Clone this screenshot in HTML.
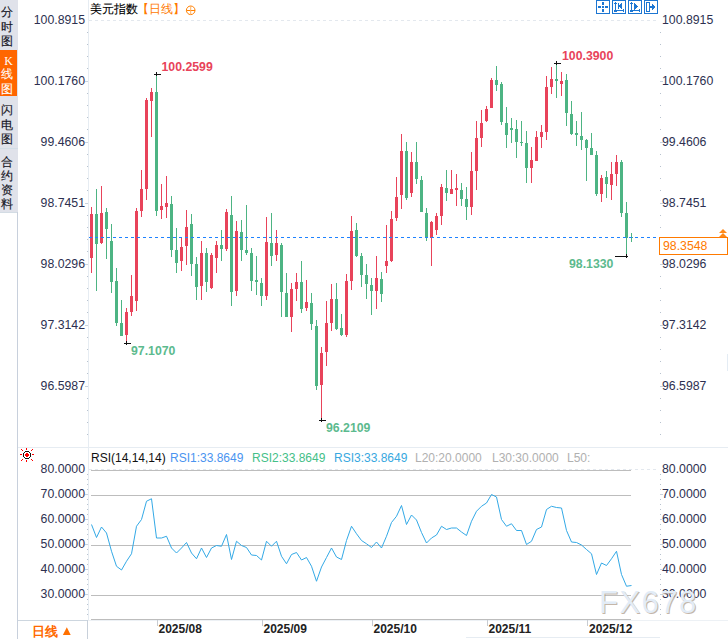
<!DOCTYPE html>
<html><head><meta charset="utf-8"><style>
html,body{margin:0;padding:0;background:#fff;width:728px;height:639px;overflow:hidden}
svg{display:block}
text{font-family:"Liberation Sans",sans-serif}
.ax{font-size:12.3px;fill:#2d3050}
.sb{font-size:12px;fill:#15151f;stroke:#15151f;stroke-width:0.15}
</style></head><body>
<svg width="728" height="639" viewBox="0 0 728 639">
<rect width="728" height="639" fill="#fff"/>
<!-- sidebar -->
<rect x="0" y="0" width="18" height="212" fill="#e0e2ea"/>
<rect x="0" y="50" width="17" height="46" fill="#ff6600"/>
<rect x="0" y="148" width="18" height="1" fill="#d2dde6"/>
<rect x="0" y="212" width="18" height="1" fill="#d3dce4"/>
<rect x="17" y="212" width="1" height="427" fill="#c8d0dc"/>
<g class="sb" text-anchor="middle">
<text x="7.2" y="15.5">分</text><text x="7.2" y="31">时</text><text x="7.2" y="44.5">图</text>
<text x="8.5" y="65" style="fill:#fff;stroke:none;font-family:'Liberation Serif',serif;font-size:12px">K</text><text x="7.2" y="78.4" style="fill:#fff;stroke:#fff;stroke-width:0.1">线</text><text x="7.2" y="93.3" style="fill:#fff;stroke:#fff;stroke-width:0.1">图</text>
<text x="7.2" y="113.6">闪</text><text x="7.2" y="129.2">电</text><text x="7.2" y="142.5">图</text>
<text x="7.2" y="165.9">合</text><text x="7.2" y="179.9">约</text><text x="7.2" y="194">资</text><text x="7.2" y="207.9">料</text>
</g>
<!-- borders -->
<rect x="88" y="0" width="1" height="620" fill="#e6ecf2"/>
<rect x="18" y="447" width="710" height="1" fill="#e6ecf2"/>
<rect x="18" y="620" width="70" height="1" fill="#cdd6df"/>
<rect x="88" y="620" width="640" height="1" fill="#edf1f5"/>
<rect x="87" y="620" width="1" height="19" fill="#c8d0da"/>
<rect x="91" y="619" width="540" height="1" fill="#bdbdbd"/>
<line x1="89" y1="469.5" x2="659" y2="469.5" stroke="#e3e8ee" stroke-dasharray="3,3"/>
<!-- top grid dashed -->
<line x1="89" y1="20.5" x2="659" y2="20.5" stroke="#e3e8ee" stroke-dasharray="3,3"/>
<!-- title -->
<text x="90" y="13" style="font-size:12px;fill:#000;stroke:#000;stroke-width:0.1">美元指数</text>
<text x="137.2" y="13.3" style="font-size:12.4px;fill:#ff7a00">【日线】</text>
<circle cx="190.7" cy="10.3" r="4.3" fill="none" stroke="#ff8000" stroke-width="1"/>
<rect x="186.5" y="10" width="8.5" height="1" fill="#ff8000"/><rect x="190.2" y="6" width="1" height="8.5" fill="#ffb060"/>
<!-- toolbar -->
<g fill="#1c76d2" shape-rendering="crispEdges">
<path d="M596 0h14v1h-14z M596 13h14v1h-14z M596 0h1v14h-1z M609 0h1v14h-1z"/>
<path d="M612 0h14v1h-14z M612 13h14v1h-14z M612 0h1v14h-1z M625 0h1v14h-1z"/>
<path d="M628 0h14v1h-14z M628 13h14v1h-14z M628 0h1v14h-1z M641 0h1v14h-1z"/>
<path d="M644 0h14v1h-14z M644 13h14v1h-14z M644 0h1v14h-1z M657 0h1v14h-1z"/>
<path d="M602 2h2v3h-2z M602 6h2v2h-2z M602 9h2v3h-2z M598 6h3v2h-3z M605 6h3v2h-3z"/>
<path d="M615 2h1v10h-1z M614 3h3v1h-3z M614 11h3v1h-3z M614 10h10v1h-10z M623 9h1v3h-1z M618 3h1v6h-1z M619 5h1v2h-1z M620 4h1v4h-1z M621 3h1v6h-1z"/>
<path d="M631 2h1v10h-1z M630 3h3v1h-3z M630 11h3v1h-3z M630 10h10v1h-10z M639 9h1v3h-1z M634 3h1v7h-1z M635 4h1v5h-1z M636 5h1v3h-1z M637 6h1v1h-1z"/>
<path d="M646 2h4v1h-4z M646 11h4v1h-4z M646 2h1v10h-1z M649 2h1v10h-1z M650 6h3v2h-3z M652 4h1v6h-1z M653 5h1v4h-1z M654 6h1v2h-1z"/>
</g>
<text x="85" y="24" class="ax" text-anchor="end">100.8915</text>
<text x="662" y="24" class="ax">100.8915</text>
<text x="85" y="85" class="ax" text-anchor="end">100.1760</text>
<text x="662" y="85" class="ax">100.1760</text>
<rect x="85" y="81" width="3" height="1" fill="#c9d3de"/>
<rect x="660" y="81" width="3" height="1" fill="#c9d3de"/>
<text x="85" y="146" class="ax" text-anchor="end">99.4606</text>
<text x="662" y="146" class="ax">99.4606</text>
<rect x="85" y="142" width="3" height="1" fill="#c9d3de"/>
<rect x="660" y="142" width="3" height="1" fill="#c9d3de"/>
<text x="85" y="207" class="ax" text-anchor="end">98.7451</text>
<text x="662" y="207" class="ax">98.7451</text>
<rect x="85" y="203" width="3" height="1" fill="#c9d3de"/>
<rect x="660" y="203" width="3" height="1" fill="#c9d3de"/>
<text x="85" y="268" class="ax" text-anchor="end">98.0296</text>
<text x="662" y="268" class="ax">98.0296</text>
<rect x="85" y="264" width="3" height="1" fill="#c9d3de"/>
<rect x="660" y="264" width="3" height="1" fill="#c9d3de"/>
<text x="85" y="329" class="ax" text-anchor="end">97.3142</text>
<text x="662" y="329" class="ax">97.3142</text>
<rect x="85" y="325" width="3" height="1" fill="#c9d3de"/>
<rect x="660" y="325" width="3" height="1" fill="#c9d3de"/>
<text x="85" y="390" class="ax" text-anchor="end">96.5987</text>
<text x="662" y="390" class="ax">96.5987</text>
<rect x="85" y="386" width="3" height="1" fill="#c9d3de"/>
<rect x="660" y="386" width="3" height="1" fill="#c9d3de"/>
<rect x="87" y="32" width="1" height="1" fill="#b8c2ce"/>
<rect x="660" y="32" width="1" height="1" fill="#b8c2ce"/>
<rect x="87" y="44" width="1" height="1" fill="#b8c2ce"/>
<rect x="660" y="44" width="1" height="1" fill="#b8c2ce"/>
<rect x="87" y="56" width="1" height="1" fill="#b8c2ce"/>
<rect x="660" y="56" width="1" height="1" fill="#b8c2ce"/>
<rect x="87" y="68" width="1" height="1" fill="#b8c2ce"/>
<rect x="660" y="68" width="1" height="1" fill="#b8c2ce"/>
<rect x="87" y="93" width="1" height="1" fill="#b8c2ce"/>
<rect x="660" y="93" width="1" height="1" fill="#b8c2ce"/>
<rect x="87" y="105" width="1" height="1" fill="#b8c2ce"/>
<rect x="660" y="105" width="1" height="1" fill="#b8c2ce"/>
<rect x="87" y="117" width="1" height="1" fill="#b8c2ce"/>
<rect x="660" y="117" width="1" height="1" fill="#b8c2ce"/>
<rect x="87" y="129" width="1" height="1" fill="#b8c2ce"/>
<rect x="660" y="129" width="1" height="1" fill="#b8c2ce"/>
<rect x="87" y="154" width="1" height="1" fill="#b8c2ce"/>
<rect x="660" y="154" width="1" height="1" fill="#b8c2ce"/>
<rect x="87" y="166" width="1" height="1" fill="#b8c2ce"/>
<rect x="660" y="166" width="1" height="1" fill="#b8c2ce"/>
<rect x="87" y="178" width="1" height="1" fill="#b8c2ce"/>
<rect x="660" y="178" width="1" height="1" fill="#b8c2ce"/>
<rect x="87" y="190" width="1" height="1" fill="#b8c2ce"/>
<rect x="660" y="190" width="1" height="1" fill="#b8c2ce"/>
<rect x="87" y="215" width="1" height="1" fill="#b8c2ce"/>
<rect x="660" y="215" width="1" height="1" fill="#b8c2ce"/>
<rect x="87" y="227" width="1" height="1" fill="#b8c2ce"/>
<rect x="660" y="227" width="1" height="1" fill="#b8c2ce"/>
<rect x="87" y="239" width="1" height="1" fill="#b8c2ce"/>
<rect x="660" y="239" width="1" height="1" fill="#b8c2ce"/>
<rect x="87" y="251" width="1" height="1" fill="#b8c2ce"/>
<rect x="660" y="251" width="1" height="1" fill="#b8c2ce"/>
<rect x="87" y="276" width="1" height="1" fill="#b8c2ce"/>
<rect x="660" y="276" width="1" height="1" fill="#b8c2ce"/>
<rect x="87" y="288" width="1" height="1" fill="#b8c2ce"/>
<rect x="660" y="288" width="1" height="1" fill="#b8c2ce"/>
<rect x="87" y="300" width="1" height="1" fill="#b8c2ce"/>
<rect x="660" y="300" width="1" height="1" fill="#b8c2ce"/>
<rect x="87" y="312" width="1" height="1" fill="#b8c2ce"/>
<rect x="660" y="312" width="1" height="1" fill="#b8c2ce"/>
<rect x="87" y="337" width="1" height="1" fill="#b8c2ce"/>
<rect x="660" y="337" width="1" height="1" fill="#b8c2ce"/>
<rect x="87" y="349" width="1" height="1" fill="#b8c2ce"/>
<rect x="660" y="349" width="1" height="1" fill="#b8c2ce"/>
<rect x="87" y="361" width="1" height="1" fill="#b8c2ce"/>
<rect x="660" y="361" width="1" height="1" fill="#b8c2ce"/>
<rect x="87" y="373" width="1" height="1" fill="#b8c2ce"/>
<rect x="660" y="373" width="1" height="1" fill="#b8c2ce"/>
<rect x="87" y="398" width="1" height="1" fill="#b8c2ce"/>
<rect x="660" y="398" width="1" height="1" fill="#b8c2ce"/>
<rect x="87" y="410" width="1" height="1" fill="#b8c2ce"/>
<rect x="660" y="410" width="1" height="1" fill="#b8c2ce"/>
<rect x="87" y="422" width="1" height="1" fill="#b8c2ce"/>
<rect x="660" y="422" width="1" height="1" fill="#b8c2ce"/>
<rect x="87" y="434" width="1" height="1" fill="#b8c2ce"/>
<rect x="660" y="434" width="1" height="1" fill="#b8c2ce"/>
<text x="85" y="473.0" class="ax" text-anchor="end">80.0000</text>
<text x="662" y="473.0" class="ax">80.0000</text>
<text x="85" y="498.0" class="ax" text-anchor="end">70.0000</text>
<text x="662" y="498.0" class="ax">70.0000</text>
<rect x="85" y="494" width="3" height="1" fill="#c9d3de"/>
<rect x="660" y="494" width="3" height="1" fill="#c9d3de"/>
<text x="85" y="523.0" class="ax" text-anchor="end">60.0000</text>
<text x="662" y="523.0" class="ax">60.0000</text>
<rect x="85" y="519" width="3" height="1" fill="#c9d3de"/>
<rect x="660" y="519" width="3" height="1" fill="#c9d3de"/>
<text x="85" y="548.0" class="ax" text-anchor="end">50.0000</text>
<text x="662" y="548.0" class="ax">50.0000</text>
<rect x="85" y="544" width="3" height="1" fill="#c9d3de"/>
<rect x="660" y="544" width="3" height="1" fill="#c9d3de"/>
<text x="85" y="573.0" class="ax" text-anchor="end">40.0000</text>
<text x="662" y="573.0" class="ax">40.0000</text>
<rect x="85" y="569" width="3" height="1" fill="#c9d3de"/>
<rect x="660" y="569" width="3" height="1" fill="#c9d3de"/>
<text x="85" y="598.0" class="ax" text-anchor="end">30.0000</text>
<text x="662" y="598.0" class="ax">30.0000</text>
<rect x="85" y="594" width="3" height="1" fill="#c9d3de"/>
<rect x="660" y="594" width="3" height="1" fill="#c9d3de"/>
<rect x="87" y="474" width="1" height="1" fill="#b8c2ce"/>
<rect x="660" y="474" width="1" height="1" fill="#b8c2ce"/>
<rect x="87" y="479" width="1" height="1" fill="#b8c2ce"/>
<rect x="660" y="479" width="1" height="1" fill="#b8c2ce"/>
<rect x="87" y="484" width="1" height="1" fill="#b8c2ce"/>
<rect x="660" y="484" width="1" height="1" fill="#b8c2ce"/>
<rect x="87" y="489" width="1" height="1" fill="#b8c2ce"/>
<rect x="660" y="489" width="1" height="1" fill="#b8c2ce"/>
<rect x="87" y="499" width="1" height="1" fill="#b8c2ce"/>
<rect x="660" y="499" width="1" height="1" fill="#b8c2ce"/>
<rect x="87" y="504" width="1" height="1" fill="#b8c2ce"/>
<rect x="660" y="504" width="1" height="1" fill="#b8c2ce"/>
<rect x="87" y="509" width="1" height="1" fill="#b8c2ce"/>
<rect x="660" y="509" width="1" height="1" fill="#b8c2ce"/>
<rect x="87" y="514" width="1" height="1" fill="#b8c2ce"/>
<rect x="660" y="514" width="1" height="1" fill="#b8c2ce"/>
<rect x="87" y="524" width="1" height="1" fill="#b8c2ce"/>
<rect x="660" y="524" width="1" height="1" fill="#b8c2ce"/>
<rect x="87" y="529" width="1" height="1" fill="#b8c2ce"/>
<rect x="660" y="529" width="1" height="1" fill="#b8c2ce"/>
<rect x="87" y="534" width="1" height="1" fill="#b8c2ce"/>
<rect x="660" y="534" width="1" height="1" fill="#b8c2ce"/>
<rect x="87" y="539" width="1" height="1" fill="#b8c2ce"/>
<rect x="660" y="539" width="1" height="1" fill="#b8c2ce"/>
<rect x="87" y="549" width="1" height="1" fill="#b8c2ce"/>
<rect x="660" y="549" width="1" height="1" fill="#b8c2ce"/>
<rect x="87" y="554" width="1" height="1" fill="#b8c2ce"/>
<rect x="660" y="554" width="1" height="1" fill="#b8c2ce"/>
<rect x="87" y="559" width="1" height="1" fill="#b8c2ce"/>
<rect x="660" y="559" width="1" height="1" fill="#b8c2ce"/>
<rect x="87" y="564" width="1" height="1" fill="#b8c2ce"/>
<rect x="660" y="564" width="1" height="1" fill="#b8c2ce"/>
<rect x="87" y="574" width="1" height="1" fill="#b8c2ce"/>
<rect x="660" y="574" width="1" height="1" fill="#b8c2ce"/>
<rect x="87" y="579" width="1" height="1" fill="#b8c2ce"/>
<rect x="660" y="579" width="1" height="1" fill="#b8c2ce"/>
<rect x="87" y="584" width="1" height="1" fill="#b8c2ce"/>
<rect x="660" y="584" width="1" height="1" fill="#b8c2ce"/>
<rect x="87" y="589" width="1" height="1" fill="#b8c2ce"/>
<rect x="660" y="589" width="1" height="1" fill="#b8c2ce"/>
<rect x="87" y="599" width="1" height="1" fill="#b8c2ce"/>
<rect x="660" y="599" width="1" height="1" fill="#b8c2ce"/>
<rect x="87" y="604" width="1" height="1" fill="#b8c2ce"/>
<rect x="660" y="604" width="1" height="1" fill="#b8c2ce"/>
<rect x="87" y="609" width="1" height="1" fill="#b8c2ce"/>
<rect x="660" y="609" width="1" height="1" fill="#b8c2ce"/>
<rect x="87" y="614" width="1" height="1" fill="#b8c2ce"/>
<rect x="660" y="614" width="1" height="1" fill="#b8c2ce"/>
<!-- candles -->
<g shape-rendering="crispEdges">
<rect x="91" y="207" width="1" height="66" fill="#e8435a"/>
<rect x="90" y="214" width="3" height="44" fill="#e8435a"/>
<rect x="96" y="189" width="1" height="102" fill="#4db483"/>
<rect x="95" y="214" width="3" height="30" fill="#4db483"/>
<rect x="101" y="186" width="1" height="58" fill="#e8435a"/>
<rect x="100" y="213" width="3" height="30" fill="#e8435a"/>
<rect x="106" y="208" width="1" height="51" fill="#4db483"/>
<rect x="105" y="212" width="3" height="17" fill="#4db483"/>
<rect x="111" y="224" width="1" height="69" fill="#4db483"/>
<rect x="110" y="241" width="3" height="41" fill="#4db483"/>
<rect x="116" y="268" width="1" height="58" fill="#4db483"/>
<rect x="115" y="281" width="3" height="42" fill="#4db483"/>
<rect x="121" y="300" width="1" height="36" fill="#4db483"/>
<rect x="120" y="323" width="3" height="13" fill="#4db483"/>
<rect x="126" y="308" width="1" height="35" fill="#e8435a"/>
<rect x="125" y="312" width="3" height="23" fill="#e8435a"/>
<rect x="131" y="275" width="1" height="41" fill="#e8435a"/>
<rect x="130" y="296" width="3" height="16" fill="#e8435a"/>
<rect x="136" y="208" width="1" height="103" fill="#e8435a"/>
<rect x="135" y="211" width="3" height="90" fill="#e8435a"/>
<rect x="141" y="170" width="1" height="47" fill="#e8435a"/>
<rect x="140" y="189" width="3" height="22" fill="#e8435a"/>
<rect x="146" y="98" width="1" height="102" fill="#e8435a"/>
<rect x="145" y="100" width="3" height="89" fill="#e8435a"/>
<rect x="151" y="88" width="1" height="49" fill="#e8435a"/>
<rect x="150" y="92" width="3" height="9" fill="#e8435a"/>
<rect x="156" y="74" width="1" height="142" fill="#4db483"/>
<rect x="155" y="92" width="3" height="119" fill="#4db483"/>
<rect x="161" y="184" width="1" height="35" fill="#e8435a"/>
<rect x="160" y="206" width="3" height="4" fill="#e8435a"/>
<rect x="166" y="176" width="1" height="42" fill="#e8435a"/>
<rect x="165" y="203" width="3" height="4" fill="#e8435a"/>
<rect x="171" y="196" width="1" height="61" fill="#4db483"/>
<rect x="170" y="204" width="3" height="46" fill="#4db483"/>
<rect x="176" y="228" width="1" height="45" fill="#4db483"/>
<rect x="175" y="250" width="3" height="13" fill="#4db483"/>
<rect x="181" y="237" width="1" height="34" fill="#e8435a"/>
<rect x="180" y="247" width="3" height="14" fill="#e8435a"/>
<rect x="186" y="210" width="1" height="55" fill="#e8435a"/>
<rect x="185" y="227" width="3" height="19" fill="#e8435a"/>
<rect x="191" y="214" width="1" height="62" fill="#4db483"/>
<rect x="190" y="224" width="3" height="40" fill="#4db483"/>
<rect x="196" y="257" width="1" height="43" fill="#4db483"/>
<rect x="195" y="264" width="3" height="23" fill="#4db483"/>
<rect x="201" y="241" width="1" height="59" fill="#e8435a"/>
<rect x="200" y="253" width="3" height="33" fill="#e8435a"/>
<rect x="206" y="248" width="1" height="44" fill="#4db483"/>
<rect x="205" y="253" width="3" height="29" fill="#4db483"/>
<rect x="211" y="253" width="1" height="36" fill="#e8435a"/>
<rect x="210" y="255" width="3" height="33" fill="#e8435a"/>
<rect x="216" y="241" width="1" height="32" fill="#e8435a"/>
<rect x="215" y="245" width="3" height="13" fill="#e8435a"/>
<rect x="221" y="230" width="1" height="31" fill="#4db483"/>
<rect x="220" y="245" width="3" height="4" fill="#4db483"/>
<rect x="226" y="209" width="1" height="42" fill="#e8435a"/>
<rect x="225" y="212" width="3" height="37" fill="#e8435a"/>
<rect x="231" y="196" width="1" height="110" fill="#4db483"/>
<rect x="230" y="215" width="3" height="77" fill="#4db483"/>
<rect x="236" y="221" width="1" height="75" fill="#e8435a"/>
<rect x="235" y="231" width="3" height="60" fill="#e8435a"/>
<rect x="241" y="220" width="1" height="41" fill="#4db483"/>
<rect x="240" y="232" width="3" height="18" fill="#4db483"/>
<rect x="246" y="205" width="1" height="50" fill="#4db483"/>
<rect x="245" y="250" width="3" height="3" fill="#4db483"/>
<rect x="251" y="248" width="1" height="43" fill="#4db483"/>
<rect x="250" y="253" width="3" height="28" fill="#4db483"/>
<rect x="256" y="256" width="1" height="39" fill="#4db483"/>
<rect x="255" y="280" width="3" height="2" fill="#4db483"/>
<rect x="261" y="278" width="1" height="28" fill="#4db483"/>
<rect x="260" y="283" width="3" height="13" fill="#4db483"/>
<rect x="266" y="217" width="1" height="83" fill="#e8435a"/>
<rect x="265" y="242" width="3" height="54" fill="#e8435a"/>
<rect x="271" y="213" width="1" height="53" fill="#4db483"/>
<rect x="270" y="243" width="3" height="13" fill="#4db483"/>
<rect x="276" y="230" width="1" height="31" fill="#e8435a"/>
<rect x="275" y="243" width="3" height="12" fill="#e8435a"/>
<rect x="281" y="243" width="1" height="74" fill="#4db483"/>
<rect x="280" y="245" width="3" height="47" fill="#4db483"/>
<rect x="286" y="273" width="1" height="44" fill="#4db483"/>
<rect x="285" y="293" width="3" height="24" fill="#4db483"/>
<rect x="291" y="283" width="1" height="49" fill="#e8435a"/>
<rect x="290" y="289" width="3" height="28" fill="#e8435a"/>
<rect x="296" y="273" width="1" height="28" fill="#e8435a"/>
<rect x="295" y="282" width="3" height="7" fill="#e8435a"/>
<rect x="301" y="261" width="1" height="52" fill="#4db483"/>
<rect x="300" y="282" width="3" height="27" fill="#4db483"/>
<rect x="306" y="280" width="1" height="31" fill="#e8435a"/>
<rect x="305" y="302" width="3" height="6" fill="#e8435a"/>
<rect x="311" y="293" width="1" height="37" fill="#4db483"/>
<rect x="310" y="303" width="3" height="21" fill="#4db483"/>
<rect x="316" y="320" width="1" height="70" fill="#4db483"/>
<rect x="315" y="326" width="3" height="60" fill="#4db483"/>
<rect x="321" y="347" width="1" height="73" fill="#e8435a"/>
<rect x="320" y="353" width="3" height="32" fill="#e8435a"/>
<rect x="326" y="301" width="1" height="65" fill="#e8435a"/>
<rect x="325" y="323" width="3" height="29" fill="#e8435a"/>
<rect x="331" y="284" width="1" height="47" fill="#e8435a"/>
<rect x="330" y="299" width="3" height="24" fill="#e8435a"/>
<rect x="336" y="283" width="1" height="47" fill="#4db483"/>
<rect x="335" y="299" width="3" height="30" fill="#4db483"/>
<rect x="341" y="314" width="1" height="22" fill="#4db483"/>
<rect x="340" y="328" width="3" height="7" fill="#4db483"/>
<rect x="346" y="274" width="1" height="63" fill="#e8435a"/>
<rect x="345" y="281" width="3" height="54" fill="#e8435a"/>
<rect x="351" y="216" width="1" height="74" fill="#e8435a"/>
<rect x="350" y="231" width="3" height="50" fill="#e8435a"/>
<rect x="356" y="223" width="1" height="34" fill="#4db483"/>
<rect x="355" y="230" width="3" height="26" fill="#4db483"/>
<rect x="361" y="253" width="1" height="34" fill="#4db483"/>
<rect x="360" y="256" width="3" height="19" fill="#4db483"/>
<rect x="366" y="264" width="1" height="35" fill="#4db483"/>
<rect x="365" y="275" width="3" height="9" fill="#4db483"/>
<rect x="371" y="278" width="1" height="37" fill="#4db483"/>
<rect x="370" y="285" width="3" height="6" fill="#4db483"/>
<rect x="376" y="256" width="1" height="53" fill="#e8435a"/>
<rect x="375" y="278" width="3" height="13" fill="#e8435a"/>
<rect x="381" y="272" width="1" height="30" fill="#4db483"/>
<rect x="380" y="279" width="3" height="15" fill="#4db483"/>
<rect x="386" y="225" width="1" height="48" fill="#e8435a"/>
<rect x="385" y="261" width="3" height="5" fill="#e8435a"/>
<rect x="391" y="211" width="1" height="51" fill="#e8435a"/>
<rect x="390" y="219" width="3" height="42" fill="#e8435a"/>
<rect x="396" y="177" width="1" height="44" fill="#e8435a"/>
<rect x="395" y="197" width="3" height="21" fill="#e8435a"/>
<rect x="401" y="134" width="1" height="75" fill="#e8435a"/>
<rect x="400" y="151" width="3" height="44" fill="#e8435a"/>
<rect x="406" y="142" width="1" height="58" fill="#4db483"/>
<rect x="405" y="151" width="3" height="47" fill="#4db483"/>
<rect x="411" y="152" width="1" height="45" fill="#e8435a"/>
<rect x="410" y="162" width="3" height="31" fill="#e8435a"/>
<rect x="416" y="142" width="1" height="42" fill="#4db483"/>
<rect x="415" y="162" width="3" height="17" fill="#4db483"/>
<rect x="421" y="176" width="1" height="36" fill="#4db483"/>
<rect x="420" y="180" width="3" height="32" fill="#4db483"/>
<rect x="426" y="208" width="1" height="33" fill="#4db483"/>
<rect x="425" y="213" width="3" height="25" fill="#4db483"/>
<rect x="431" y="221" width="1" height="45" fill="#e8435a"/>
<rect x="430" y="222" width="3" height="16" fill="#e8435a"/>
<rect x="436" y="213" width="1" height="22" fill="#e8435a"/>
<rect x="435" y="216" width="3" height="14" fill="#e8435a"/>
<rect x="441" y="184" width="1" height="41" fill="#e8435a"/>
<rect x="440" y="187" width="3" height="29" fill="#e8435a"/>
<rect x="446" y="170" width="1" height="31" fill="#4db483"/>
<rect x="445" y="188" width="3" height="5" fill="#4db483"/>
<rect x="451" y="170" width="1" height="24" fill="#e8435a"/>
<rect x="450" y="189" width="3" height="5" fill="#e8435a"/>
<rect x="456" y="174" width="1" height="32" fill="#e8435a"/>
<rect x="455" y="188" width="3" height="2" fill="#e8435a"/>
<rect x="461" y="183" width="1" height="23" fill="#4db483"/>
<rect x="460" y="190" width="3" height="9" fill="#4db483"/>
<rect x="466" y="187" width="1" height="33" fill="#4db483"/>
<rect x="465" y="199" width="3" height="8" fill="#4db483"/>
<rect x="471" y="152" width="1" height="63" fill="#e8435a"/>
<rect x="470" y="171" width="3" height="36" fill="#e8435a"/>
<rect x="476" y="121" width="1" height="69" fill="#e8435a"/>
<rect x="475" y="138" width="3" height="33" fill="#e8435a"/>
<rect x="481" y="110" width="1" height="37" fill="#e8435a"/>
<rect x="480" y="123" width="3" height="15" fill="#e8435a"/>
<rect x="486" y="106" width="1" height="16" fill="#e8435a"/>
<rect x="485" y="109" width="3" height="12" fill="#e8435a"/>
<rect x="491" y="78" width="1" height="30" fill="#e8435a"/>
<rect x="490" y="80" width="3" height="28" fill="#e8435a"/>
<rect x="496" y="66" width="1" height="25" fill="#4db483"/>
<rect x="495" y="80" width="3" height="5" fill="#4db483"/>
<rect x="501" y="82" width="1" height="43" fill="#4db483"/>
<rect x="500" y="84" width="3" height="38" fill="#4db483"/>
<rect x="506" y="107" width="1" height="41" fill="#4db483"/>
<rect x="505" y="123" width="3" height="12" fill="#4db483"/>
<rect x="511" y="118" width="1" height="25" fill="#4db483"/>
<rect x="510" y="128" width="3" height="2" fill="#4db483"/>
<rect x="516" y="120" width="1" height="38" fill="#4db483"/>
<rect x="515" y="129" width="3" height="13" fill="#4db483"/>
<rect x="521" y="121" width="1" height="25" fill="#4db483"/>
<rect x="520" y="142" width="3" height="1" fill="#4db483"/>
<rect x="526" y="131" width="1" height="52" fill="#4db483"/>
<rect x="525" y="143" width="3" height="25" fill="#4db483"/>
<rect x="531" y="147" width="1" height="36" fill="#e8435a"/>
<rect x="530" y="160" width="3" height="8" fill="#e8435a"/>
<rect x="536" y="131" width="1" height="30" fill="#e8435a"/>
<rect x="535" y="137" width="3" height="24" fill="#e8435a"/>
<rect x="541" y="125" width="1" height="23" fill="#e8435a"/>
<rect x="540" y="132" width="3" height="5" fill="#e8435a"/>
<rect x="546" y="76" width="1" height="64" fill="#e8435a"/>
<rect x="545" y="87" width="3" height="45" fill="#e8435a"/>
<rect x="551" y="67" width="1" height="27" fill="#e8435a"/>
<rect x="550" y="79" width="3" height="8" fill="#e8435a"/>
<rect x="556" y="63" width="1" height="35" fill="#4db483"/>
<rect x="555" y="79" width="3" height="2" fill="#4db483"/>
<rect x="561" y="72" width="1" height="24" fill="#e8435a"/>
<rect x="560" y="81" width="3" height="3" fill="#e8435a"/>
<rect x="566" y="74" width="1" height="52" fill="#4db483"/>
<rect x="565" y="80" width="3" height="33" fill="#4db483"/>
<rect x="571" y="101" width="1" height="34" fill="#4db483"/>
<rect x="570" y="114" width="3" height="20" fill="#4db483"/>
<rect x="576" y="121" width="1" height="25" fill="#4db483"/>
<rect x="575" y="133" width="3" height="2" fill="#4db483"/>
<rect x="581" y="112" width="1" height="38" fill="#4db483"/>
<rect x="580" y="136" width="3" height="4" fill="#4db483"/>
<rect x="586" y="139" width="1" height="42" fill="#4db483"/>
<rect x="585" y="140" width="3" height="8" fill="#4db483"/>
<rect x="591" y="133" width="1" height="22" fill="#4db483"/>
<rect x="590" y="148" width="3" height="7" fill="#4db483"/>
<rect x="596" y="151" width="1" height="45" fill="#4db483"/>
<rect x="595" y="155" width="3" height="39" fill="#4db483"/>
<rect x="601" y="175" width="1" height="27" fill="#e8435a"/>
<rect x="600" y="178" width="3" height="16" fill="#e8435a"/>
<rect x="606" y="171" width="1" height="27" fill="#4db483"/>
<rect x="605" y="177" width="3" height="7" fill="#4db483"/>
<rect x="611" y="162" width="1" height="38" fill="#e8435a"/>
<rect x="610" y="174" width="3" height="11" fill="#e8435a"/>
<rect x="616" y="155" width="1" height="31" fill="#e8435a"/>
<rect x="615" y="162" width="3" height="12" fill="#e8435a"/>
<rect x="621" y="160" width="1" height="57" fill="#4db483"/>
<rect x="620" y="162" width="3" height="51" fill="#4db483"/>
<rect x="626" y="202" width="1" height="55" fill="#4db483"/>
<rect x="625" y="213" width="3" height="25" fill="#4db483"/>
<rect x="631" y="233" width="1" height="9" fill="#4db483"/>
<rect x="630" y="237" width="3" height="1" fill="#4db483"/>
</g>
<!-- current price line -->
<line x1="89" y1="237.5" x2="657" y2="237.5" stroke="#1e82ff" stroke-width="1" stroke-dasharray="3,3"/>
<rect x="659.5" y="237.5" width="68" height="17" fill="#fff" stroke="#ff7a00"/>
<text x="663" y="250" class="ax" style="fill:#ff7a00">98.3548</text>
<path d="M719 233 L723 229 L727 233 Z M719 237 L723 233 L727 237 Z" fill="#ff8a1a"/>
<!-- markers -->
<g fill="#111" shape-rendering="crispEdges">
<rect x="154" y="74" width="7" height="1"/><rect x="156" y="72" width="1" height="4"/>
<rect x="554" y="63" width="7" height="1"/><rect x="556" y="61" width="1" height="4"/>
<rect x="124" y="343" width="7" height="1"/><rect x="126" y="341" width="1" height="4"/>
<rect x="319" y="420" width="7" height="1"/><rect x="321" y="418" width="1" height="4"/>
<rect x="615" y="256" width="13" height="1"/><rect x="626" y="254" width="1" height="4"/>
</g>
<g style="font-size:12.3px;font-weight:bold">
<text x="161.5" y="70.5" fill="#e8435a">100.2599</text>
<text x="562" y="60" fill="#e8435a">100.3900</text>
<text x="131" y="355" fill="#5cba8e">97.1070</text>
<text x="326" y="431.5" fill="#5cba8e">96.2109</text>
<text x="569" y="268" fill="#5cba8e">98.1330</text>
</g>
<!-- RSI -->
<g shape-rendering="crispEdges">
<rect x="91" y="470" width="540" height="1" fill="#bdbdbd"/>
<rect x="91" y="495" width="540" height="1" fill="#bdbdbd"/>
<rect x="91" y="545" width="540" height="1" fill="#bdbdbd"/>
<rect x="91" y="595" width="540" height="1" fill="#bdbdbd"/>
</g>
<g shape-rendering="crispEdges">
<path fill="#111" d="M25 451h4v1h-4z M25 458h4v1h-4z M24 452h1v1h-1z M29 452h1v1h-1z M24 457h1v1h-1z M29 457h1v1h-1z M23 453h1v4h-1z M30 453h1v4h-1z"/>
<path fill="#f00" d="M26 453h2v1h-2z M25 454h4v2h-4z M26 456h2v1h-2z M26 448h1v2h-1z M26 460h1v2h-1z M20 454h2v1h-2z M32 454h2v1h-2z M21 449h1v1h-1z M22 450h1v1h-1z M32 449h1v1h-1z M31 450h1v1h-1z M21 460h1v1h-1z M22 459h1v1h-1z M32 460h1v1h-1z M31 459h1v1h-1z"/>
</g>
<g style="font-size:12px">
<text x="91" y="462" fill="#111">RSI(14,14,14)</text>
<text x="170" y="462" fill="#4a94f0">RSI1:33.8649</text>
<text x="252" y="462" fill="#44c088">RSI2:33.8649</text>
<text x="334" y="462" fill="#38a8e0">RSI3:33.8649</text>
<text x="415" y="462" fill="#b0b0b0">L20:20.0000</text>
<text x="492" y="462" fill="#b0b0b0">L30:30.0000</text>
<text x="567" y="462" fill="#b0b0b0">L50:</text>
</g>
<polyline points="91.5,524.5 96.5,537.5 101.5,527 106.5,533 111.5,551.25 116.5,566.25 121.5,570 126.5,561.25 131.5,553.75 136.5,526.25 141.5,519.5 146.5,501.25 151.5,498.75 156.5,538 161.5,538 166.5,536.25 171.5,548 176.5,553 181.5,548 186.5,542.5 191.5,553 196.5,558.75 201.5,548 206.5,557.5 211.5,548 216.5,545.5 221.5,546.25 226.5,534.5 231.5,559.5 236.5,541.25 241.5,545.5 246.5,547.5 251.5,555 256.5,555.5 261.5,560 266.5,541.25 271.5,546.25 276.5,541.25 281.5,556.25 286.5,563.75 291.5,554.5 296.5,552.5 301.5,560 306.5,557.5 311.5,566.25 316.5,581.25 321.5,567 326.5,557.5 331.5,548 336.5,557 341.5,559.5 346.5,540.5 351.5,526.25 356.5,533.75 361.5,540.5 366.5,543.75 371.5,547.5 376.5,542 381.5,548 386.5,536.25 391.5,522.5 396.5,516.25 401.5,505.5 406.5,524.5 411.5,515 416.5,520 421.5,532.5 426.5,543 431.5,538 436.5,535 441.5,526.25 446.5,529.5 451.5,528 456.5,528 461.5,532 466.5,535.5 471.5,521.25 476.5,511.25 481.5,506.25 486.5,503 491.5,494.5 496.5,497 501.5,519.5 506.5,526.25 511.5,523.75 516.5,530.5 521.5,530.5 526.5,544.5 531.5,541.25 536.5,529.5 541.5,527 546.5,509.5 551.5,506.25 556.5,507.5 561.5,508 566.5,530.5 571.5,542 576.5,542.5 581.5,545 586.5,549.5 591.5,553.75 596.5,574.5 601.5,563 606.5,565.5 611.5,558.75 616.5,551.25 621.5,574.5 626.5,586.25 631.5,585.5" fill="none" stroke="#33a9e6" stroke-width="1"/>
<!-- bottom axis -->
<g fill="#c8ccd2">
<rect x="157" y="620" width="1" height="6"/>
<rect x="262" y="620" width="1" height="6"/>
<rect x="372" y="620" width="1" height="6"/>
<rect x="487" y="620" width="1" height="6"/>
<rect x="587" y="620" width="1" height="6"/>
</g>
<g style="font-size:12px;font-weight:bold;fill:#222">
<text x="158.5" y="633">2025/08</text>
<text x="263.5" y="633">2025/09</text>
<text x="373.5" y="633">2025/10</text>
<text x="488.5" y="633">2025/11</text>
<text x="589" y="633">2025/12</text>
</g>
<text x="32" y="636" style="font-size:13px;font-weight:bold;fill:#ff6a00">日线</text>
<path d="M62.9 635 L66.8 627.2 L70.7 635 Z" fill="#ff7000"/>
<rect x="466" y="637" width="194" height="1" fill="#e6ecf2"/>
<rect x="727" y="354" width="1" height="17" fill="#e4ecf4"/>
<!-- watermark -->
<text x="600" y="614" style="font-size:31px;fill:#a08670;letter-spacing:1.5px;opacity:0.6">FX678</text>
<text x="599" y="613" style="font-size:31px;fill:#e2ecf7;letter-spacing:1.5px">FX678</text>
</svg>
</body></html>
